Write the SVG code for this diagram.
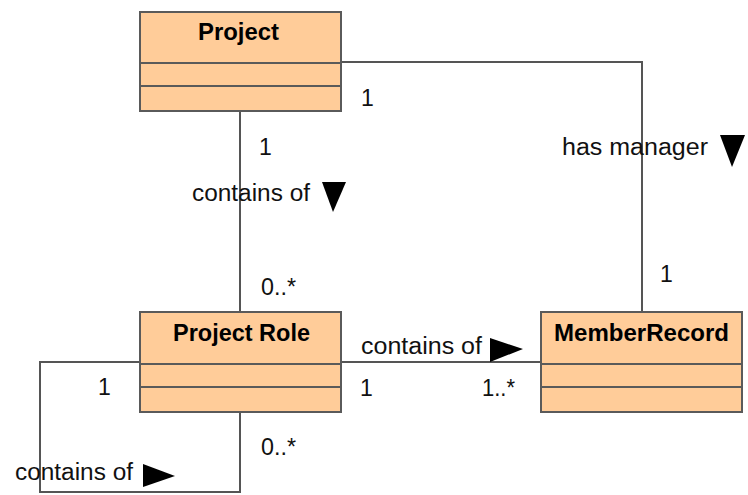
<svg xmlns="http://www.w3.org/2000/svg" width="748" height="495" viewBox="0 0 748 495">
  <style>
    .cls { fill: #ffcc99; stroke: #5a5a5a; stroke-width: 2; }
    .div { stroke: #5a5a5a; stroke-width: 2; fill: none; }
    .name { font-family: "Liberation Sans", Arial, sans-serif; font-weight: bold; font-size: 23px; fill: #000; }
    .lbl { font-family: "Liberation Sans", Arial, sans-serif; font-size: 23px; fill: #111; }
    .conn { stroke: #555; stroke-width: 2; fill: none; }
    .dir { fill: #000; }
  </style>
  <rect width="748" height="495" fill="#ffffff"/>

  <!-- associations -->
  <g id="connectors">
    <path class="conn" d="M240,111 V312"/>
    <path class="conn" d="M341,62 H642 V312"/>
    <path class="conn" d="M341,362 H541"/>
    <path class="conn" d="M140,362 H40 V492 H240 V412"/>
  </g>

  <g id="project">
    <rect class="cls" x="140" y="12" width="201" height="99"/>
    <path class="div" d="M140,63 H341 M140,86 H341"/>
    <text class="name" x="198" y="40" textLength="81" lengthAdjust="spacingAndGlyphs">Project</text>
  </g>

  <g id="project-role">
    <rect class="cls" x="140" y="312" width="201" height="100"/>
    <path class="div" d="M140,364 H341 M140,387 H341"/>
    <text class="name" x="173" y="341" textLength="137" lengthAdjust="spacingAndGlyphs">Project Role</text>
  </g>

  <g id="member-record">
    <rect class="cls" x="541" y="312" width="201" height="100"/>
    <path class="div" d="M541,364 H742 M541,387 H742"/>
    <text class="name" x="554" y="341" textLength="175" lengthAdjust="spacingAndGlyphs">MemberRecord</text>
  </g>

  <!-- multiplicities and role names -->
  <g id="labels">
    <text class="lbl" x="361" y="106">1</text>
    <text class="lbl" x="259" y="155">1</text>
    <text class="lbl" x="192" y="201" textLength="118" lengthAdjust="spacingAndGlyphs">contains of</text>
    <polygon class="dir" points="322,182 346,182 333,212"/>

    <text class="lbl" x="562" y="155" textLength="146" lengthAdjust="spacingAndGlyphs">has manager</text>
    <polygon class="dir" points="720,135 745,135 732,167"/>
    <text class="lbl" x="660" y="282">1</text>

    <text class="lbl" x="261" y="295" textLength="35" lengthAdjust="spacingAndGlyphs">0..*</text>

    <text class="lbl" x="361" y="354" textLength="121" lengthAdjust="spacingAndGlyphs">contains of</text>
    <polygon class="dir" points="490,338 523,349 490,362"/>
    <text class="lbl" x="360" y="396">1</text>
    <text class="lbl" x="482" y="396" textLength="33" lengthAdjust="spacingAndGlyphs">1..*</text>

    <text class="lbl" x="98" y="395">1</text>
    <text class="lbl" x="261" y="455" textLength="35" lengthAdjust="spacingAndGlyphs">0..*</text>
    <text class="lbl" x="15" y="480" textLength="118" lengthAdjust="spacingAndGlyphs">contains of</text>
    <polygon class="dir" points="143,464 175,476 143,487"/>
  </g>
</svg>
